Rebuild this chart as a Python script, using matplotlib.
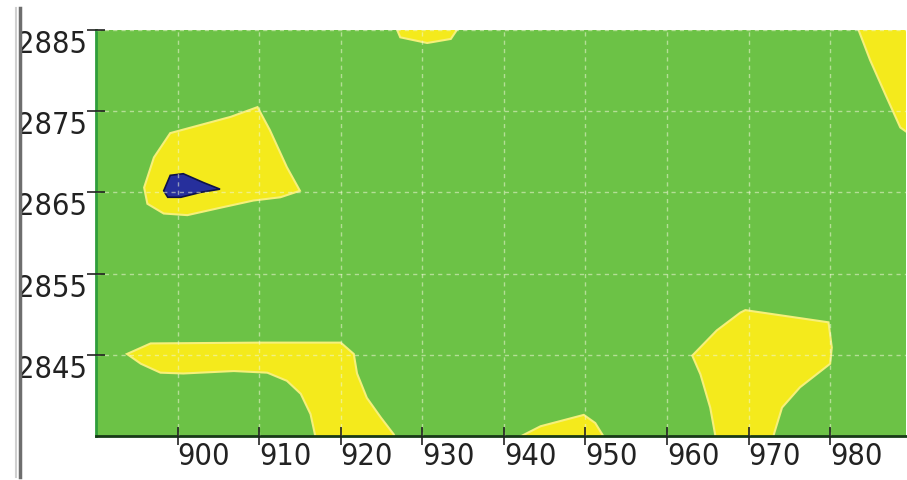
import matplotlib.pyplot as plt
from matplotlib.lines import Line2D
from matplotlib import font_manager as fm

# axis ticks
x_ticks = [900, 910, 920, 930, 940, 950, 960, 970, 980]
y_ticks = [2845, 2855, 2865, 2875, 2885]

# contour regions (x, y in data units)
# yellow: upper-left blob
blob1_x = [909.8, 906.5, 899.1, 897.1, 895.9, 896.3, 898.3, 901.2, 905.2,
           909.3, 912.6, 915.0, 913.4, 911.3]
blob1_y = [2875.5, 2874.3, 2872.3, 2869.3, 2865.6, 2863.6, 2862.4, 2862.2,
           2863.1, 2864.0, 2864.4, 2865.2, 2868.1, 2872.7]
# blue: low inside blob1
low_x = [898.3, 899.1, 900.7, 903.2, 905.2, 902.8, 900.4, 898.8]
low_y = [2865.2, 2867.1, 2867.3, 2866.2, 2865.4, 2865.0, 2864.4, 2864.4]
# yellow: lower-left band
band_x = [893.8, 896.7, 910.2, 920.0, 921.6, 922.0, 923.2, 924.9, 926.5,
          927.0, 917.1, 916.3, 915.1, 913.4, 911.0, 906.9, 900.7, 897.9, 895.5]
band_y = [2845.1, 2846.4, 2846.5, 2846.5, 2845.1, 2842.7, 2839.7, 2837.3,
          2835.2, 2834.0, 2834.0, 2837.7, 2840.2, 2841.8, 2842.8, 2843.0,
          2842.7, 2842.8, 2843.9]
# yellow: lower-right blob
blob2_x = [969.6, 979.8, 980.2, 980.0, 976.3, 974.1, 973.1, 973.0, 965.9,
           965.9, 965.3, 964.1, 963.1, 966.1, 969.0]
blob2_y = [2850.5, 2849.0, 2845.9, 2843.9, 2841.0, 2838.5, 2835.2, 2834.0,
           2834.0, 2835.2, 2838.5, 2842.6, 2844.9, 2848.0, 2850.2]
# yellow: top centre
top_x = [926.5, 927.3, 930.6, 933.5, 934.9]
top_y = [2886.0, 2884.1, 2883.4, 2883.9, 2886.0]
# yellow: bottom centre
bot_x = [940.2, 944.5, 949.8, 951.2, 952.8]
bot_y = [2834.0, 2836.2, 2837.6, 2836.6, 2834.0]
# yellow: top right corner
corner_x = [983.1, 984.9, 986.8, 988.6, 990.0, 990.0]
corner_y = [2886.0, 2881.3, 2877.0, 2873.0, 2872.0, 2886.0]

green = '#6cc246'
yellow = '#f4ea1c'
blue = '#262f9c'

# the labels use a narrow face; take a condensed one if there is one
tick_font = fm.FontProperties(family='Liberation Sans', size=21)
for f in fm.fontManager.ttflist:
    if f.stretch in ('condensed', 'semi-condensed', 'extra-condensed') \
            and f.weight in (400, 'normal', 'regular') and f.style == 'normal':
        tick_font = fm.FontProperties(fname=f.fname, size=22)
        break

fig = plt.figure(figsize=(9.07, 4.8), dpi=100)
ax = fig.add_axes([96 / 907, 1 - 436 / 480, 810 / 907, 406 / 480])
ax.set_facecolor(green)

for xs, ys in [(blob1_x, blob1_y), (band_x, band_y), (blob2_x, blob2_y),
               (top_x, top_y), (bot_x, bot_y), (corner_x, corner_y)]:
    ax.fill(xs, ys, facecolor=yellow, edgecolor='#f6f07a', linewidth=1.5,
            zorder=1)
ax.fill(low_x, low_y, facecolor=blue, edgecolor='#0e1248', linewidth=1.2,
        zorder=2)

ax.set_xlim(890, 989.3)
ax.set_ylim(2835, 2885)
ax.set_xticks(x_ticks)
ax.set_yticks(y_ticks)
ax.grid(True, color='#f0f6d8', alpha=0.55, linestyle=(0, (3, 3)),
        linewidth=1.0, zorder=3)
ax.set_axisbelow(False)

ax.tick_params(axis='both', direction='inout', length=13, width=1.2,
               color='#222222', labelcolor='#222222')
ax.tick_params(axis='x', pad=-2)
ax.tick_params(axis='y', pad=0)
for lab in ax.get_xticklabels():
    lab.set_fontproperties(tick_font)
    lab.set_ha('left')
for lab in ax.get_yticklabels():
    lab.set_fontproperties(tick_font)
    lab.set_va('top')

for side in ['top', 'right']:
    ax.spines[side].set_visible(False)
ax.spines['left'].set_color('#2f9e3a')
ax.spines['left'].set_linewidth(2)
ax.spines['bottom'].set_color('#173a17')
ax.spines['bottom'].set_linewidth(2)

# window frame line at the left
fig.add_artist(Line2D([20 / 907, 20 / 907], [1 - 477 / 480, 1 - 8 / 480],
                      color='#6e6e6e', linewidth=2.5))
fig.add_artist(Line2D([16 / 907, 16 / 907], [1 - 477 / 480, 1 - 8 / 480],
                      color='#d0d0d0', linewidth=1.5))

fig.savefig('out.png', dpi=100)
